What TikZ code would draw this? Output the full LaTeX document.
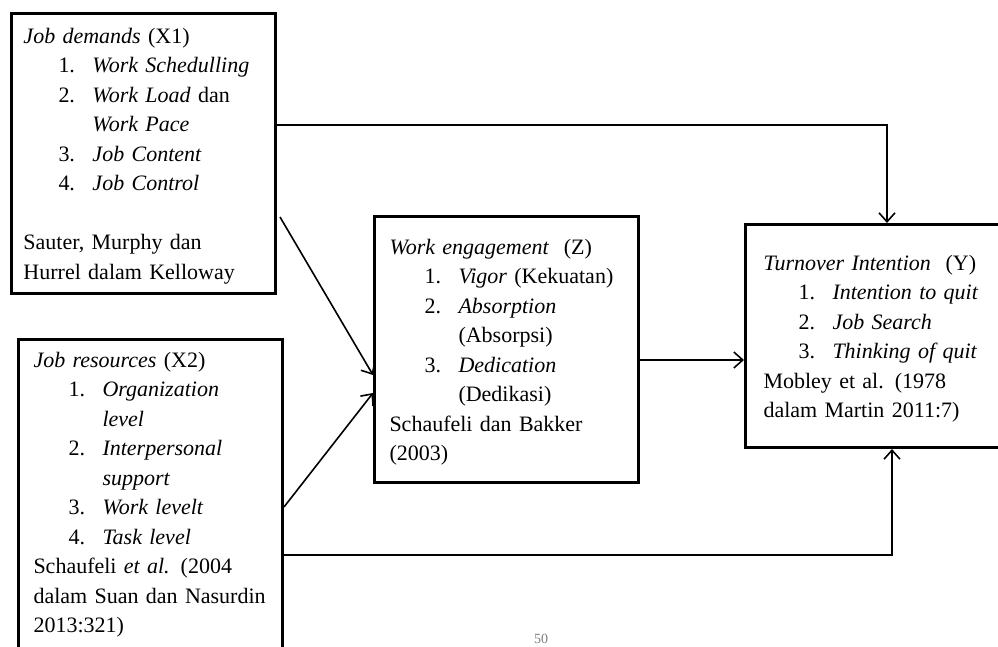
\documentclass[tikz,border=0pt]{standalone}
\usepackage{fontspec}
\setmainfont{Liberation Serif}
\usepackage{tikz}
\usetikzlibrary{positioning}
\usetikzlibrary{calc}
\usetikzlibrary{arrows.meta}
\tikzset{>={Straight Barb[length=4.5pt,width=8pt]}}
\tikzset{
  varbox/.style={draw, line width=1.5pt, anchor=north west, align=left,
    minimum width=132pt, text width=117pt, inner xsep=7.5pt,
    font=\fontsize{11}{14.75}\selectfont},
  conn/.style={line width=0.8pt}
}
\newcommand{\numitem}[2]{\hspace*{17.5pt}\makebox[17pt][l]{#1}#2}
\newcommand{\contline}[1]{\hspace*{34.5pt}#1}
\newcommand{\headline}[1]{\smash{#1}\strut}

\begin{document}
\begin{tikzpicture}[x=0.5pt,y=-0.5pt]

\useasboundingbox (0,0) rectangle (998,647);
\clip (0,0) rectangle (998,647);

% Variables
\node[varbox, minimum height=140pt, inner xsep=6pt, text width=120pt] (X1) at (10,12)
  {\headline{\textit{Job demands} (X1)}\\
   \numitem{1.}{\textit{Work Schedulling}}\\
   \numitem{2.}{\textit{Work Load} dan}\\
   \contline{\textit{Work Pace}}\\
   \numitem{3.}{\textit{Job Content}}\\
   \numitem{4.}{\textit{Job Control}}\\
   \mbox{}\\
   Sauter, Murphy dan\\
   Hurrel dalam Kelloway};

\node[varbox, minimum height=165pt] (X2) at (17,338)
  {\headline{\textit{Job resources} (X2)}\\
   \numitem{1.}{\textit{Organization}}\\
   \contline{\textit{level}}\\
   \numitem{2.}{\textit{Interpersonal}}\\
   \contline{\textit{support}}\\
   \numitem{3.}{\textit{Work levelt}}\\
   \numitem{4.}{\textit{Task level}}\\
   Schaufeli \textit{et al.} (2004\\
   dalam Suan dan Nasurdin\\
   2013:321)\\
   \mbox{}};

\node[varbox, minimum height=133pt] (Z) at (373,215)
  {\headline{\textit{Work engagement}\ \ (Z)}\\
   \numitem{1.}{\textit{Vigor} (Kekuatan)}\\
   \numitem{2.}{\textit{Absorption}}\\
   \contline{(Absorpsi)}\\
   \numitem{3.}{\textit{Dedication}}\\
   \contline{(Dedikasi)}\\
   Schaufeli dan Bakker\\
   (2003)};

\node[varbox, minimum height=111.5pt, inner xsep=9pt, text width=114pt] (Y) at (744,223)
  {\headline{\textit{Turnover Intention}\ \ (Y)}\\
   \numitem{1.}{\textit{Intention to quit}}\\
   \numitem{2.}{\textit{Job Search}}\\
   \numitem{3.}{\textit{Thinking of quit}}\\
   Mobley et al. (1978\\
   dalam Martin 2011:7)};

% Page number
\node[font=\fontsize{7}{8}\selectfont, text=gray, inner sep=1pt] (pagenum) at (541,639) {50};

% Connector points
\coordinate (bendA) at (887,125);
\coordinate (bendB) at (892,555);
\coordinate (startA) at (280,217);
\coordinate (endA) at (373,375);
\coordinate (startB) at (281,507);
\coordinate (endB) at (373,393);
\coordinate (midZY) at (637,360);

% Paths
\draw[conn, ->] (X1.east |- bendA) -- (bendA) -- (Y.north -| bendA);
\draw[conn, ->] (X2.east |- bendB) -- (bendB) -- (Y.south -| bendB);
\draw[conn, ->] (startA) -- (Z.west |- endA);
\draw[conn, ->] (X2.east |- startB) -- (Z.west |- endB);
\draw[conn, ->] (Z.east |- midZY) -- (Y.west |- midZY);

\end{tikzpicture}
\end{document}
